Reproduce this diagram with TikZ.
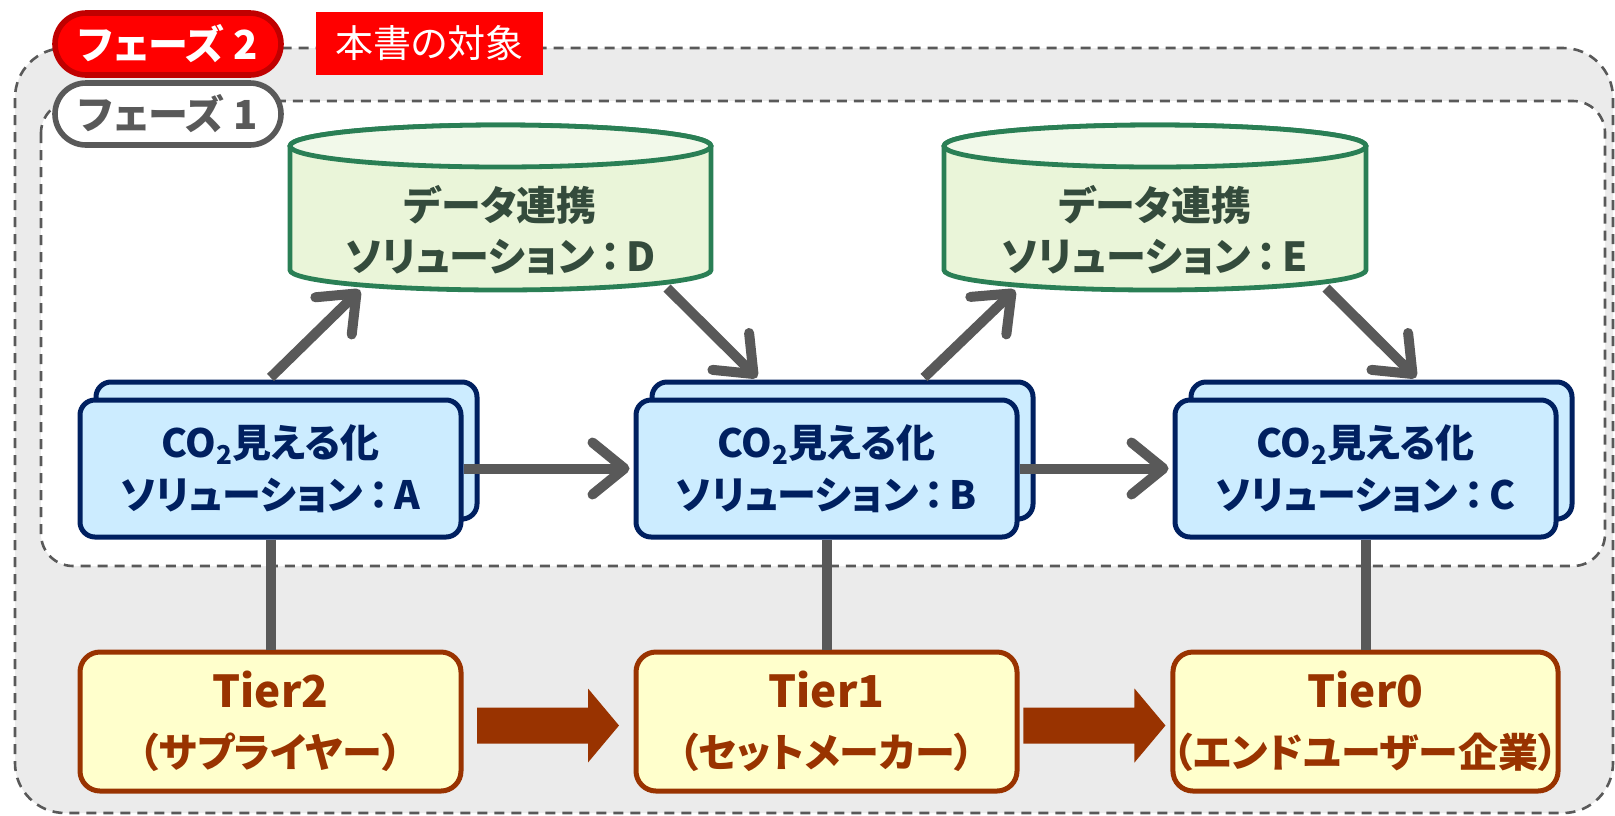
\documentclass[tikz,border=0pt]{standalone}
\usepackage{fontspec}
\setmainfont{Noto Sans CJK JP}[RawFeature=+palt]
\usetikzlibrary{arrows.meta,calc}

\definecolor{gline}{HTML}{595959}
\definecolor{gbg}{HTML}{EBEBEB}
\definecolor{redfill}{HTML}{FF0000}
\definecolor{redline}{HTML}{C00000}
\definecolor{navy}{HTML}{002060}
\definecolor{skyfill}{HTML}{CCECFF}
\definecolor{dbline}{HTML}{2A7F55}
\definecolor{dbfill}{HTML}{EAF5D9}
\definecolor{dbtop}{HTML}{F2F9EA}
\definecolor{dbtext}{HTML}{344B3C}
\definecolor{tierbrown}{HTML}{993300}
\definecolor{cream}{HTML}{FFFFCC}

% database drum: #1 centre x, #2 half width (px)
\newcommand\dbdrum[2]{%
  \draw[draw=dbline, line width=2.4pt, fill=dbfill]
    ({#1-#2},146) -- ({#1-#2},270)
    arc[start angle=180, end angle=360, x radius={#2*0.5pt}, y radius=10pt]
    -- ({#1+#2},146)
    arc[start angle=0, end angle=180, x radius={#2*0.5pt}, y radius=10.5pt] -- cycle;
  \draw[draw=dbline, line width=2.4pt, fill=dbtop]
    (#1,146) ellipse[x radius={#2*0.5pt}, y radius=10.5pt];
}
% spaced colon used in the solution names
\newcommand\sepcolon{\hspace{0.15em}：\hspace{0.15em}}
\newcommand\cotwo{CO\raisebox{-0.35ex}{\fontsize{13}{13}\selectfont 2}}

\begin{document}
\begin{tikzpicture}[x=0.5pt,y=-0.5pt,
  phaseframe/.style={draw=gline, line width=1.3pt, dash pattern=on 5pt off 3.5pt},
  pill/.style={rounded corners=15.5pt, line width=2.8pt, minimum width=113pt,
    minimum height=31pt, inner sep=0pt, font=\bfseries\fontsize{20}{20}\selectfont},
  solbox/.style={draw=navy, line width=2.5pt, fill=skyfill, rounded corners=7.5pt,
    minimum width=190.5pt, minimum height=68.5pt, inner sep=0pt, align=center,
    text=navy, font=\bfseries\fontsize{19.5}{26}\selectfont},
  dbtextnode/.style={align=center, text=dbtext, inner sep=0pt,
    font=\bfseries\fontsize{20}{25.5}\selectfont},
  tierbox/.style={draw=tierbrown, line width=2.5pt, fill=cream, rounded corners=10pt,
    minimum width=190.5pt, minimum height=69.5pt, inner sep=0pt, align=center,
    text=tierbrown, font=\bfseries\fontsize{20}{30}\selectfont},
  grayline/.style={draw=gline, line width=5pt},
  grayarrow/.style={grayline, -{Straight Barb[length=16pt, width=26pt, round]}},
  blockarrow/.style={fill=tierbrown},
]
\useasboundingbox (0,0) rectangle (1615,815);

% phase 2 frame and its labels
\draw[phaseframe, fill=gbg, rounded corners=25pt] (15,48) rectangle (1613,813);
\node[pill, draw=redline, fill=redfill, text=white] (ph2) at (168,44) {フェーズ 2};
\node[fill=redfill, text=white, minimum width=113.5pt, minimum height=31.5pt,
  inner sep=0pt, font=\fontsize{19}{19}\selectfont] (scope) at (429.5,43.5) {本書の対象};

% phase 1 frame and its label
\draw[phaseframe, fill=white, rounded corners=16pt] (41,101) rectangle (1605,566);
\node[pill, draw=gline, fill=white, text=gline] (ph1) at (168,114) {フェーズ 1};

% data link drums
\dbdrum{500.5}{210.5}
\dbdrum{1155}{211}
\node[dbtextnode] (D) at (500.5,230) {データ連携\\ソリューション\sepcolon D};
\node[dbtextnode] (E) at (1155,230) {データ連携\\ソリューション\sepcolon E};
\coordinate (Dl) at (360,290);
\coordinate (Dr) at (667,288);
\coordinate (El) at (1015,290);
\coordinate (Er) at (1326,288);

% CO2 visualisation solutions (stacked cards)
\node[solbox] (Aback) at (286.5,450.5) {};
\node[solbox] (Bback) at (842.5,450.5) {};
\node[solbox] (Cback) at (1381.5,450.5) {};
\node[solbox] (A) at (270.5,468.5) {\cotwo 見える化\\ソリューション\sepcolon A};
\node[solbox] (B) at (826.5,468.5) {\cotwo 見える化\\ソリューション\sepcolon B};
\node[solbox] (C) at (1365.5,468.5) {\cotwo 見える化\\ソリューション\sepcolon C};

% supply chain tiers
\node[tierbox] (T2) at (270.5,721.5) {{\fontsize{22}{30}\selectfont Tier2}\\（サプライヤー）};
\node[tierbox] (T1) at (826.5,721.5) {{\fontsize{22}{30}\selectfont Tier1}\\（セットメーカー）};
\node[tierbox] (T0) at (1365.5,721.5) {{\fontsize{22}{30}\selectfont Tier0}\\（エンドユーザー企業）};

% data flow
\draw[grayarrow] ($(A.center |- Aback.north)+(0,-2)$) -- (Dl);
\draw[grayarrow] (Dr) -- ($(Bback.north)+(-85.5,-2)$);
\draw[grayarrow] ($(Bback.north)+(81.5,-2)$) -- (El);
\draw[grayarrow] (Er) -- ($(Cback.north)+(34.5,-2)$);
\draw[grayarrow, shorten >=2pt] (A.east) -- (B.west);
\draw[grayarrow, shorten >=2pt] (B.east) -- (C.west);

% solution to tier links
\draw[grayline] (A.south) -- (T2.north);
\draw[grayline] (B.south) -- (T1.north);
\draw[grayline] (C.south) -- (T0.north);

% goods flow
\fill[blockarrow] ($(T2.east)!0.5!(T1.west)+(-71.5,-14)$) -- ++(111,0) -- ++(0,-19)
  -- ++(31,37) -- ++(-31,37) -- ++(0,-19) -- ++(-111,0) -- cycle;
\fill[blockarrow] ($(T1.east)!0.5!(T0.west)+(-71.5,-14)$) -- ++(111,0) -- ++(0,-19)
  -- ++(31,37) -- ++(-31,37) -- ++(0,-19) -- ++(-111,0) -- cycle;
\end{tikzpicture}
\end{document}
